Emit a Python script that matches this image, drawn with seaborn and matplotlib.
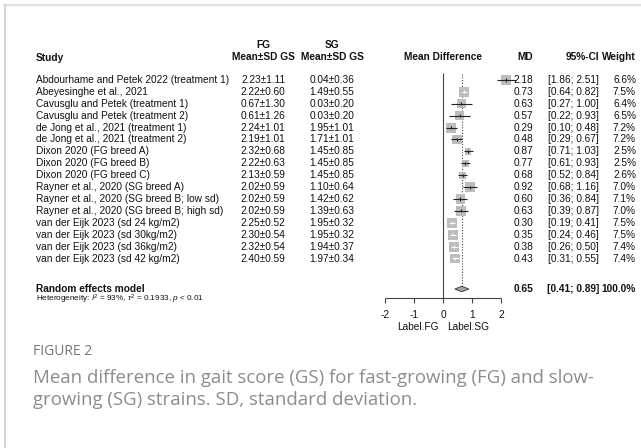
import numpy as np
import pandas as pd
import matplotlib
matplotlib.use("Agg")
import matplotlib.pyplot as plt
from matplotlib.lines import Line2D
import seaborn as sns

# ---------------- data ----------------
studies = [
    "Abdourhame and Petek 2022 (treatment 1)",
    "Abeyesinghe et al., 2021",
    "Cavusglu and Petek (treatment 1)",
    "Cavusglu and Petek (treatment 2)",
    "de Jong et al., 2021 (treatment 1)",
    "de Jong et al., 2021 (treatment 2)",
    "Dixon 2020 (FG breed A)",
    "Dixon 2020 (FG breed B)",
    "Dixon 2020 (FG breed C)",
    "Rayner et al., 2020 (SG breed A)",
    "Rayner et al., 2020 (SG breed B; low sd)",
    "Rayner et al., 2020 (SG breed B; high sd)",
    "van der Eijk 2023 (sd 24 kg/m2)",
    "van der Eijk 2023 (sd 30kg/m2)",
    "van der Eijk 2023 (sd 36kg/m2)",
    "van der Eijk 2023 (sd 42 kg/m2)",
]
fg_stats = ["2.23±1.11", "2.22±0.60", "0.67±1.30", "0.61±1.26", "2.24±1.01", "2.19±1.01",
            "2.32±0.68", "2.22±0.63", "2.13±0.59", "2.02±0.59", "2.02±0.59", "2.02±0.59",
            "2.25±0.52", "2.30±0.54", "2.32±0.54", "2.40±0.59"]
sg_stats = ["0.04±0.36", "1.49±0.55", "0.03±0.20", "0.03±0.20", "1.95±1.01", "1.71±1.01",
            "1.45±0.85", "1.45±0.85", "1.45±0.85", "1.10±0.64", "1.42±0.62", "1.39±0.63",
            "1.95±0.32", "1.95±0.32", "1.94±0.37", "1.97±0.34"]
md = [2.18, 0.73, 0.63, 0.57, 0.29, 0.48, 0.87, 0.77, 0.68, 0.92, 0.60, 0.63, 0.30, 0.35, 0.38, 0.43]
ci_low = [1.86, 0.64, 0.27, 0.22, 0.10, 0.29, 0.71, 0.61, 0.52, 0.68, 0.36, 0.39, 0.19, 0.24, 0.26, 0.31]
ci_high = [2.51, 0.82, 1.00, 0.93, 0.48, 0.67, 1.03, 0.93, 0.84, 1.16, 0.84, 0.87, 0.41, 0.46, 0.50, 0.55]
weights = [6.6, 7.5, 6.4, 6.5, 7.2, 7.2, 2.5, 2.5, 2.6, 7.0, 7.1, 7.0, 7.5, 7.5, 7.4, 7.4]
pooled_md = 0.65
pooled_low = 0.41
pooled_high = 0.89
pooled_weight = "100.0%"
x_ticks = [-2, -1, 0, 1, 2]
label_left = "Label.FG"
label_right = "Label.SG"
heterogeneity = r"Heterogeneity: $I^2$ = 93%, $\tau^2$ = 0.1933, $p$ < 0.01"
caption_head = "FIGURE 2"
caption_lines = ["Mean difference in gait score (GS) for fast-growing (FG) and slow-",
                 "growing (SG) strains. SD, standard deviation."]

# ---------------- layout ----------------
W, H = 641, 448
X0, PPU = 443.0, 29.0     # pixel of MD=0, pixels per MD unit
Y0, DY = 80.0, 11.9       # pixel of first study row, row spacing


def px(x):
    return (x - X0) / PPU


def ry(y):
    return (y - Y0) / DY


sns.set_theme(style="white")
plt.rcParams["font.family"] = ["Liberation Sans", "DejaVu Sans"]
plt.rcParams["mathtext.fontset"] = "custom"
plt.rcParams["mathtext.rm"] = "Liberation Sans"
plt.rcParams["mathtext.it"] = "Liberation Sans:italic"

fig = plt.figure(figsize=(W / 100, H / 100), dpi=100)
ax = fig.add_axes([0, 0, 1, 1])
ax.set_xlim(px(0), px(W))
ax.set_ylim(ry(H), ry(0))
ax.axis("off")

FS = 7.3
TXT = "#111111"
LINE = "#444444"
C_FG, C_SG, C_MD, C_CI, C_W = 263, 332, 533, 599, 636

# headers
ax.text(px(36), ry(58), "Study", fontsize=FS, fontweight="bold", ha="left", va="center", color=TXT)
ax.text(px(C_FG), ry(45), "FG", fontsize=FS, fontweight="bold", ha="center", va="center", color=TXT)
ax.text(px(C_FG), ry(57.5), "Mean±SD GS", fontsize=FS, fontweight="bold", ha="center", va="center", color=TXT)
ax.text(px(C_SG), ry(45), "SG", fontsize=FS, fontweight="bold", ha="center", va="center", color=TXT)
ax.text(px(C_SG), ry(57.5), "Mean±SD GS", fontsize=FS, fontweight="bold", ha="center", va="center", color=TXT)
ax.text(0, ry(57.5), "Mean Difference", fontsize=FS, fontweight="bold", ha="center", va="center", color=TXT)
ax.text(px(C_MD), ry(57.5), "MD", fontsize=FS, fontweight="bold", ha="right", va="center", color=TXT)
ax.text(px(C_CI), ry(57.5), "95%-CI", fontsize=FS, fontweight="bold", ha="right", va="center", color=TXT)
ax.text(px(C_W), ry(57.5), "Weight", fontsize=FS, fontweight="bold", ha="right", va="center", color=TXT)

# study rows text
for i in range(len(studies)):
    ax.text(px(36), i, studies[i], fontsize=FS, ha="left", va="center", color=TXT)
    ax.text(px(C_FG), i, fg_stats[i], fontsize=FS, ha="center", va="center", color=TXT)
    ax.text(px(C_SG), i, sg_stats[i], fontsize=FS, ha="center", va="center", color=TXT)
    ax.text(px(C_MD), i, f"{md[i]:.2f}", fontsize=FS, ha="right", va="center", color=TXT)
    ax.text(px(C_CI), i, f"[{ci_low[i]:.2f}; {ci_high[i]:.2f}]", fontsize=FS, ha="right", va="center", color=TXT)
    ax.text(px(C_W), i, f"{weights[i]:.1f}%", fontsize=FS, ha="right", va="center", color=TXT)

# summary row
srow = ry(289)
ax.text(px(36), srow, "Random effects model", fontsize=FS, fontweight="bold", ha="left", va="center", color=TXT)
ax.text(px(36), ry(299.5), heterogeneity, fontsize=5.9, ha="left", va="center", color=TXT)
ax.text(px(C_MD), srow, f"{pooled_md:.2f}", fontsize=FS, fontweight="bold", ha="right", va="center", color=TXT)
ax.text(px(C_CI), srow, f"[{pooled_low:.2f}; {pooled_high:.2f}]", fontsize=FS, fontweight="bold",
        ha="right", va="center", color=TXT)
ax.text(px(C_W), srow, pooled_weight, fontsize=FS, fontweight="bold", ha="right", va="center", color=TXT)

# reference lines
ax.vlines(0, ry(73), ry(298), color=LINE, lw=0.8)
ax.vlines(pooled_md, ry(74), srow - 2.8 / DY, color=LINE, lw=0.8, linestyles=(0, (1, 1.5)))

# boxes
df = pd.DataFrame({"md": md, "row": np.arange(len(md)), "w": weights,
                   "lo": ci_low, "hi": ci_high})
S_MIN, S_MAX = 7.0, 52.0
sns.scatterplot(data=df, x="md", y="row", size="w", sizes=(S_MIN, S_MAX), size_norm=(0, 7.5),
                marker="s", color="#bdbdbd", linewidth=0, legend=False, ax=ax, zorder=2)

# CI lines: white when the interval lies inside the box
s_vals = S_MIN + (S_MAX - S_MIN) * df["w"] / 7.5
half = np.sqrt(s_vals) * 100 / 72 / 2 / PPU
inside = ((df["hi"] - df["md"]) < half) & ((df["md"] - df["lo"]) < half)
cols = np.where(inside, "white", "#222222")
ax.hlines(df["row"], df["lo"], df["hi"], colors=cols, lw=0.8, zorder=3)
ax.scatter(df["md"], df["row"], marker="|", s=5, c=cols, linewidths=0.8, zorder=3)

# diamond
dh = 2.7 / DY
ax.fill([pooled_low, pooled_md, pooled_high, pooled_md], [srow, srow - dh, srow, srow + dh],
        facecolor="#a8a8a8", edgecolor="#444444", lw=0.7, zorder=3)

# x axis
ay = ry(298)
ax.hlines(ay, min(x_ticks), max(x_ticks), color=LINE, lw=0.8)
ax.vlines(x_ticks, ay, ry(303), color=LINE, lw=0.8)
for t in x_ticks:
    ax.text(t, ry(314.5), f"{t}", fontsize=FS, ha="center", va="center", color=TXT)
ax.text(-0.15, ry(327.5), label_left, fontsize=FS, ha="right", va="center", color=TXT)
ax.text(0.15, ry(327.5), label_right, fontsize=FS, ha="left", va="center", color=TXT)

# caption
fig.text(33 / W, 1 - 351 / H, caption_head, fontsize=10, color="#767676",
         family=["Open Sans", "DejaVu Sans"], ha="left", va="center")
for j, line in enumerate(caption_lines):
    fig.text(33 / W, 1 - (378 + 22 * j) / H, line, fontsize=13.4, color="#8c8c8c",
             family=["Open Sans", "DejaVu Sans"], ha="left", va="center")

# frame
fig.add_artist(Line2D([4 / W, 1], [1 - 5.5 / H, 1 - 5.5 / H], transform=fig.transFigure,
                      color="#e2e2e2", lw=1.6))
fig.add_artist(Line2D([4.5 / W, 4.5 / W], [0, 1 - 5.5 / H], transform=fig.transFigure,
                      color="#d0d0d0", lw=1.2))

fig.savefig("out.png", dpi=100)
